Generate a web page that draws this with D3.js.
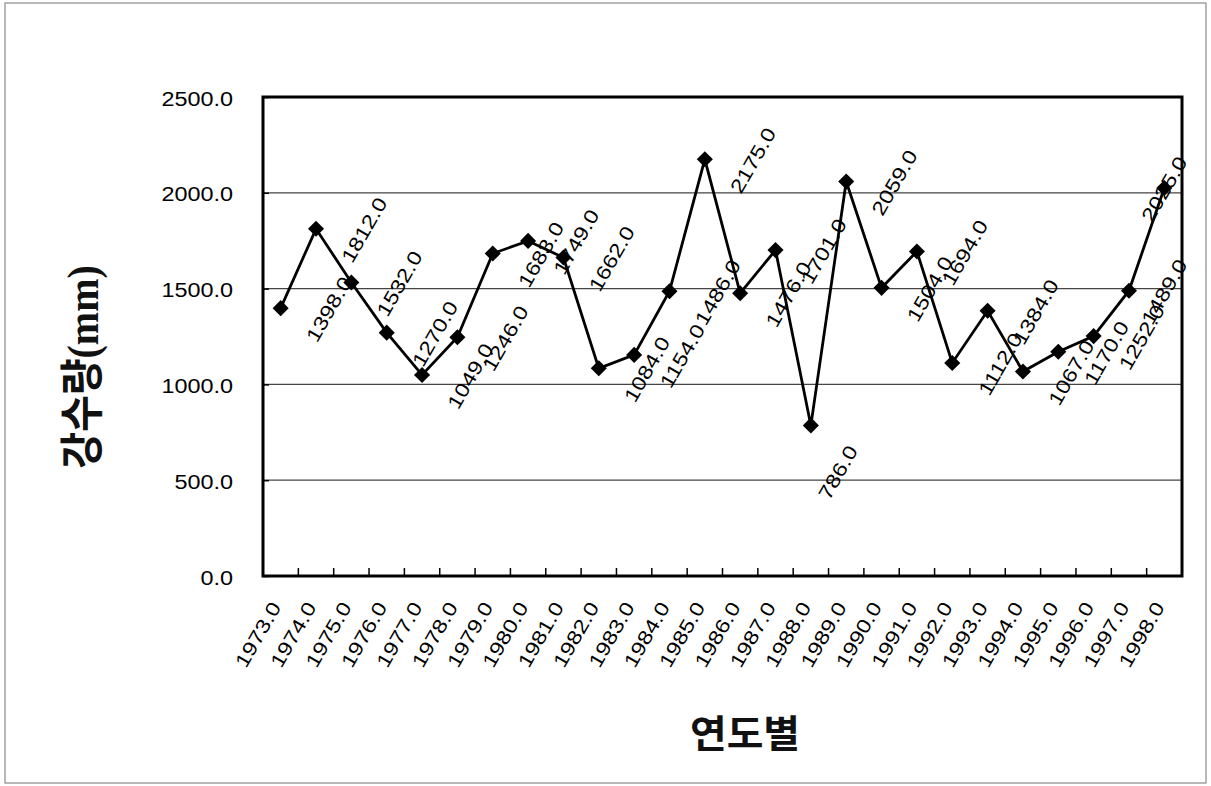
<!DOCTYPE html>
<html>
<head>
<meta charset="utf-8">
<script src="https://cdn.jsdelivr.net/npm/d3@7"></script>
<style>
  html, body { margin: 0; padding: 0; background: #fff; }
  svg { display: block; }
</style>
</head>
<body>
<svg id="chart" width="1211" height="786"></svg>
<script>
// Annual precipitation by year
const yearLabels = [
  "1973.0", "1974.0", "1975.0", "1976.0", "1977.0", "1978.0", "1979.0",
  "1980.0", "1981.0", "1982.0", "1983.0", "1984.0", "1985.0", "1986.0",
  "1987.0", "1988.0", "1989.0", "1990.0", "1991.0", "1992.0", "1993.0",
  "1994.0", "1995.0", "1996.0", "1997.0", "1998.0"
];
const rainfall = [
  1398, 1812, 1532, 1270, 1049, 1246, 1683, 1749, 1662, 1084, 1154, 1486, 2175,
  1476, 1701, 786, 2059, 1504, 1694, 1112, 1384, 1067, 1170, 1252, 1489, 2025
];
const yTicks = [0, 500, 1000, 1500, 2000, 2500];
const yTitleKo = "강수량";
const yTitleUnit = "(mm)";
const xTitle = "연도별";

const W = 1211, H = 786;
const plot = { left: 263, right: 1182, top: 97, bottom: 576 };

const numFont = "'Liberation Sans', Arial, sans-serif";
const koFont = "'Noto Sans CJK KR', 'Noto Sans', sans-serif";
const numSize = 19.5;
const stretch = 1.2;   // wide numerals
const angle = -60;

const svg = d3.select("#chart");

// outer chart frame
svg.append("rect")
  .attr("x", 5).attr("y", 3).attr("width", W - 10).attr("height", H - 6)
  .attr("fill", "#fff").attr("stroke", "#8a8a8a").attr("stroke-width", 1.2);

const x = d3.scaleBand().domain(yearLabels).range([plot.left, plot.right]).padding(0);
const y = d3.scaleLinear().domain([0, 2500]).range([plot.bottom, plot.top]);
const cx = d => x(d) + x.bandwidth() / 2;

// horizontal gridlines
svg.append("g").selectAll("line")
  .data(yTicks.filter(t => t > 0 && t < 2500))
  .join("line")
  .attr("x1", plot.left).attr("x2", plot.right)
  .attr("y1", d => y(d)).attr("y2", d => y(d))
  .attr("stroke", "#444").attr("stroke-width", 1.3);

// y axis: labels and small inward ticks
const yAxis = svg.append("g")
  .attr("transform", `translate(${plot.left},0)`)
  .call(d3.axisLeft(y).tickValues(yTicks).tickFormat(d3.format(".1f"))
    .tickSizeInner(-6).tickSizeOuter(0).tickPadding(30));
yAxis.select(".domain").remove();
yAxis.selectAll(".tick line").attr("stroke", "#000").attr("stroke-width", 1.5);
yAxis.selectAll(".tick text")
  .attr("x", 0).attr("dy", "0.36em")
  .attr("transform", `translate(-30,1) scale(${stretch},1)`)
  .attr("font-family", numFont).attr("font-size", numSize).attr("fill", "#000");

// x axis: ticks on category boundaries pointing up
const xAxis = svg.append("g")
  .attr("transform", `translate(0,${plot.bottom})`)
  .call(d3.axisBottom(x).tickSize(0).tickFormat(""));
xAxis.select(".domain").remove();
svg.append("g").selectAll("line")
  .data(yearLabels.slice(1))
  .join("line")
  .attr("x1", d => x(d)).attr("x2", d => x(d))
  .attr("y1", plot.bottom).attr("y2", plot.bottom - 8)
  .attr("stroke", "#000").attr("stroke-width", 1.5);

// rotated category labels
svg.append("g").selectAll("text")
  .data(yearLabels)
  .join("text")
  .attr("text-anchor", "end")
  .attr("transform", d => `translate(${cx(d) + 1},${plot.bottom + 31}) rotate(${angle}) scale(${stretch},1)`)
  .attr("font-family", numFont).attr("font-size", numSize).attr("fill", "#000")
  .text(d => d);

// plot area frame
svg.append("rect")
  .attr("x", plot.left).attr("y", plot.top)
  .attr("width", plot.right - plot.left).attr("height", plot.bottom - plot.top)
  .attr("fill", "none").attr("stroke", "#000").attr("stroke-width", 3);

// series line
const pts = yearLabels.map((d, i) => [cx(d), y(rainfall[i])]);
svg.append("path")
  .attr("d", d3.line()(pts))
  .attr("fill", "none").attr("stroke", "#000").attr("stroke-width", 2.8)
  .attr("stroke-linejoin", "miter");

// diamond markers
svg.append("g").selectAll("path")
  .data(pts)
  .join("path")
  .attr("transform", p => `translate(${p[0]},${p[1]})`)
  .attr("d", d3.symbol(d3.symbolDiamond2, 165)())
  .attr("fill", "#000");

// data labels to the right of each point, kept inside the plot's right edge;
// the lowest point's label drops below so it clears the steep line segments
const cosA = Math.cos(Math.abs(angle) * Math.PI / 180);
const sinA = Math.sin(Math.abs(angle) * Math.PI / 180);
const minVal = d3.min(rainfall);
const labels = svg.append("g").selectAll("text")
  .data(rainfall.map((v, i) => ({ v, p: pts[i] })))
  .join("text")
  .attr("text-anchor", "middle").attr("dy", "0.36em")
  .attr("font-family", numFont).attr("font-size", numSize).attr("fill", "#000")
  .text(d => d.v.toFixed(1));
labels.each(function (d) {
  const len = this.getComputedTextLength() * stretch;
  const half = (len * cosA + 14 * sinA) / 2;
  let lx = Math.min(d.p[0] + 48, plot.right + 6 - half);
  let ly = d.p[1] + 1;
  if (d.v === minVal) { lx = d.p[0] + 27; ly = d.p[1] + 47; }
  d3.select(this).attr("transform",
    `translate(${lx},${ly}) rotate(${angle}) scale(${stretch},1)`);
});

// y axis title
const yt = svg.append("text")
  .attr("transform", "translate(82,367) scale(1.1,1) rotate(-90)")
  .attr("text-anchor", "middle").attr("dy", "0.36em")
  .attr("font-size", 40).attr("font-weight", "bold").attr("fill", "#111");
yt.append("tspan").attr("font-family", koFont).text(yTitleKo);
yt.append("tspan").attr("font-family", "'Liberation Serif', serif").text(yTitleUnit);

// x axis title
svg.append("text")
  .attr("transform", "translate(745,733) scale(1.05,1)")
  .attr("text-anchor", "middle").attr("dy", "0.36em")
  .attr("font-family", koFont).attr("font-size", 38).attr("font-weight", "bold")
  .attr("fill", "#111")
  .text(xTitle);
</script>
</body>
</html>
